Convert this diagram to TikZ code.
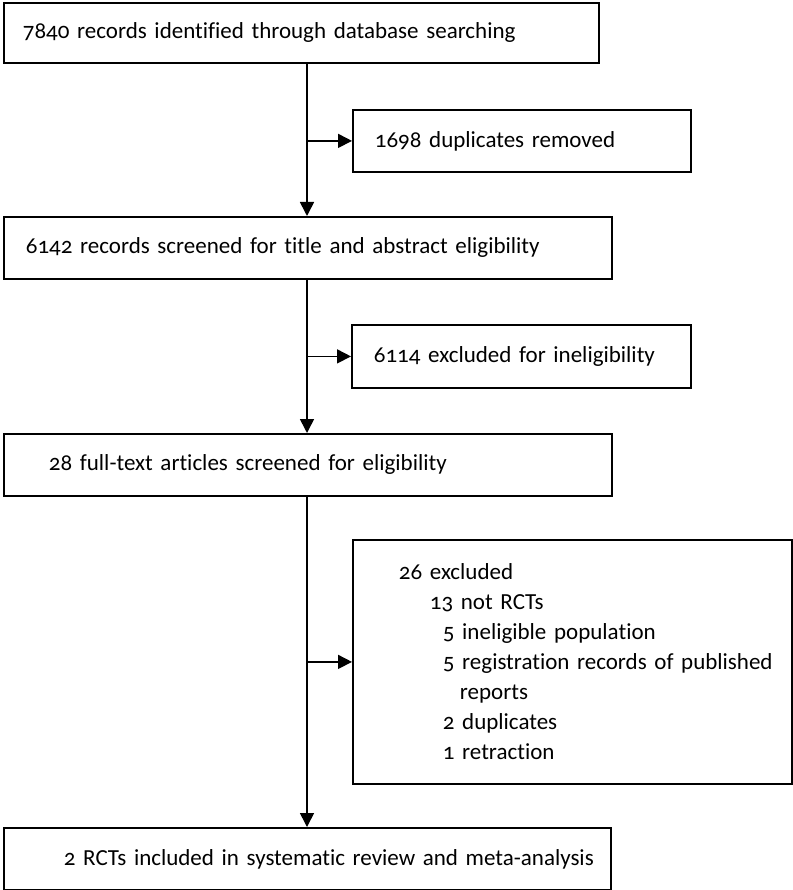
\documentclass[tikz,border=0pt]{standalone}
\usepackage{fontspec}
\setmainfont[Numbers=OldStyle, Ligatures=NoCommon, WordSpace=0.8]{Carlito}
\hyphenpenalty=10000
\exhyphenpenalty=10000
\usetikzlibrary{arrows.meta}
\tikzset{
	box/.style={draw, line width=1.8pt, anchor=north west, align=left, inner sep=0pt, font=\fontsize{23}{30}\selectfont},
	flow/.style={line width=1.6pt, -{Triangle[length=14pt,width=14pt]}}
}

\begin{document}
\begin{tikzpicture}[x=1pt, y=-1pt]
		%%%%% START %%%%%
		
		\useasboundingbox (0, 0) rectangle (792, 890);
		
		\node[box, minimum height=60pt, text width=595pt] (found) at (3, 2) {\hspace*{19pt}7840 records identified through database searching};
		\node[box, minimum height=62pt, text width=338pt] (dup) at (352, 109) {\hspace*{22pt}1698 duplicates removed};
		\node[box, minimum height=62pt, text width=608pt] (screen) at (3, 216) {\hspace*{22pt}6142 records screened for title and abstract eligibility};
		\node[box, minimum height=63pt, text width=339pt] (inelig) at (351, 324) {\hspace*{22pt}6114 excluded for ineligibility};
		\node[box, minimum height=62pt, text width=608pt] (full) at (3, 433) {\hspace*{45pt}28 full-text articles screened for eligibility};
		\node[box, minimum height=244pt, text width=439pt] (excl) at (352, 539) {\hspace*{46pt}26 excluded\\
			\hspace*{77pt}13 not RCTs\\
			\hspace*{90pt}5 ineligible population\\
			\hspace*{90pt}5 registration records of published\\
			\hspace*{107pt}reports\\
			\hspace*{90pt}2 duplicates\\
			\hspace*{90pt}1 retraction};
		\node[box, minimum height=62pt, text width=607pt] (incl) at (3, 827) {\hspace*{60pt}2 RCTs included in systematic review and meta-analysis};
		
		\coordinate (spine) at (307, 0);
		
		\draw[flow] (found.south -| spine) -- (screen.north -| spine);
		\draw[flow] (spine |- dup.west) -- (dup.west);
		\draw[flow] (screen.south -| spine) -- (full.north -| spine);
		\draw[flow] (spine |- inelig.west) -- (inelig.west);
		\draw[flow] (full.south -| spine) -- (incl.north -| spine);
		\draw[flow] (spine |- excl.west) -- (excl.west);
		
		%%%%% END %%%%%
	\end{tikzpicture}
\end{document}
